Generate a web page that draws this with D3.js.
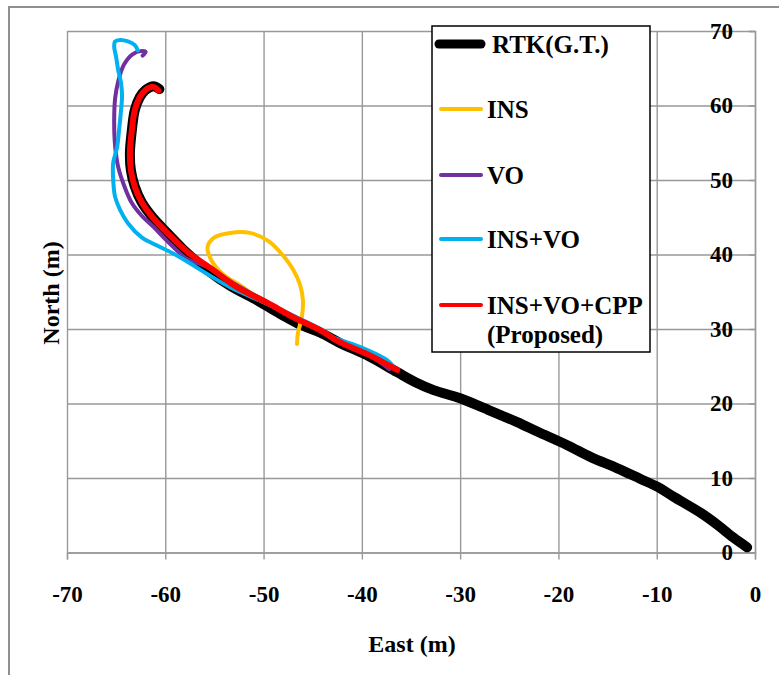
<!DOCTYPE html>
<html>
<head>
<meta charset="utf-8">
<script src="https://cdn.jsdelivr.net/npm/d3@7"></script>
<style>
  body { margin: 0; background: #fff; }
  text { font-family: "Liberation Serif", "Times New Roman", serif; font-weight: bold; fill: #000; }
</style>
</head>
<body>
<svg width="779" height="675"></svg>
<script>
// tick values
const eastTicks = [-70, -60, -50, -40, -30, -20, -10, 0];
const northTicks = [0, 10, 20, 30, 40, 50, 60, 70];

// tracks, [east, north] in metres
const rtkTrack = [[-0.8,0.7],[-2.2,2.0],[-3.8,3.7],[-5.5,5.3],[-8.3,7.5],[-9.9,8.8],[-11.7,9.9],[-14.0,11.3],
  [-16.7,12.8],[-19.1,14.4],[-22.1,16.2],[-24.2,17.5],[-27.6,19.4],[-30.0,20.7],[-32.7,21.8],[-34.6,22.9],
  [-36.4,24.2],[-39.5,26.5],[-42.2,28.1],[-44.2,29.5],[-46.3,30.6],[-48.0,31.8],[-50.6,33.8],[-53.4,35.8],
  [-55.7,37.9],[-57.8,40.2],[-59.8,42.9],[-61.3,45.0],[-62.4,47.0],[-63.1,49.1],[-63.5,51.3],[-63.6,53.6],
  [-63.4,56.7],[-63.1,59.4],[-62.6,61.1],[-62.0,62.1],[-61.2,62.6],[-60.6,62.2]];
const insTrack = [[-46.6,28.0],[-46.5,29.5],[-46.1,31.6],[-46.0,33.9],[-46.3,36.0],[-47.0,38.0],[-48.1,40.0],
  [-49.5,41.8],[-51.4,42.9],[-53.4,42.9],[-55.0,42.3],[-55.7,41.0],[-55.3,39.2],[-54.0,37.2],[-52.3,35.8],[-50.6,34.2]];
const voTrack = [[-37.2,24.6],[-39.5,26.7],[-42.2,28.3],[-44.2,29.7],[-47.0,31.7],[-49.6,33.6],[-52.5,35.7],
  [-54.2,37.1],[-55.5,38.2],[-56.6,38.8],[-57.8,39.4],[-59.8,41.8],[-61.2,43.7],[-62.4,45.2],[-63.4,46.9],
  [-64.2,49.3],[-64.8,51.8],[-65.1,54.5],[-65.2,58.0],[-65.1,61.0],[-64.8,63.2],[-64.2,65.5],[-63.3,66.9],
  [-62.5,67.3],[-62.0,67.2],[-62.3,66.7]];
const insVoTrack = [[-36.8,25.0],[-37.4,25.8],[-40.2,27.6],[-42.9,28.9],[-44.2,30.0],[-47.0,31.8],[-50.0,33.6],
  [-53.4,35.6],[-56.0,37.6],[-57.7,39.0],[-59.3,40.2],[-61.0,41.3],[-62.4,42.3],[-63.8,44.2],[-64.6,46.0],
  [-65.1,47.7],[-65.3,50.0],[-65.3,52.3],[-64.9,54.4],[-64.7,56.7],[-64.5,59.4],[-64.4,61.2],[-64.5,63.0],
  [-64.8,64.8],[-65.0,66.5],[-65.2,67.9],[-65.1,68.6],[-64.6,68.8],[-63.8,68.6],[-63.1,68.1],[-62.8,67.4]];
const cppTrack = [[-36.4,24.5],[-39.4,26.6],[-42.2,28.2],[-44.2,29.8],[-47.0,31.6],[-49.6,33.5],[-52.7,35.6],
  [-55.1,37.9],[-57.8,40.4],[-59.8,42.9],[-61.3,45.0],[-62.4,47.0],[-63.1,49.1],[-63.5,51.3],[-63.6,53.6],
  [-63.4,56.7],[-63.1,59.4],[-62.6,61.1],[-62.0,62.1],[-61.2,62.5],[-60.7,62.0]];

const seriesNames = ["RTK(G.T.)", "INS", "VO", "INS+VO", "INS+VO+CPP"];
const seriesColors = ["#000000", "#FFC000", "#7030A0", "#00B0F0", "#FF0000"];
const seriesWidths = [10, 4, 4, 4, 6];
const tracks = [rtkTrack, insTrack, voTrack, insVoTrack, cppTrack];

const svg = d3.select("svg");

// chart frame
svg.append("rect").attr("x", 9).attr("y", 7).attr("width", 800).attr("height", 700)
  .attr("fill", "none").attr("stroke", "#8f8f8f").attr("stroke-width", 2);

const x = d3.scaleLinear().domain([-70, 0]).range([67, 755]);
const y = d3.scaleLinear().domain([0, 70]).range([552.5, 31]);

// grid
svg.append("g").attr("transform", `translate(0,${y(0)})`)
  .call(d3.axisBottom(x).tickValues(eastTicks).tickSize(-(y(0) - y(70))).tickFormat(""))
  .call(g => g.select(".domain").remove())
  .selectAll("line").attr("stroke", "#999").attr("stroke-width", 1.4);
svg.append("g").attr("transform", `translate(${x(0)},0)`)
  .call(d3.axisLeft(y).tickValues(northTicks).tickSize(x(0) - x(-70)).tickFormat(""))
  .call(g => g.select(".domain").remove())
  .selectAll("line").attr("stroke", "#999").attr("stroke-width", 1.4);

// axes crossing at zero
const xAxis = svg.append("g").attr("transform", `translate(0,${y(0)})`)
  .call(d3.axisBottom(x).tickValues(eastTicks).tickSize(7).tickPadding(26).tickFormat(d => String(d)));
xAxis.selectAll("text").attr("font-size", 23).attr("dy", "0.71em");
const yAxis = svg.append("g").attr("transform", `translate(${x(0)},0)`)
  .call(d3.axisLeft(y).tickValues(northTicks).tickSize(6).tickPadding(16).tickFormat(d => String(d)));
yAxis.selectAll("text").attr("font-size", 23);
svg.selectAll(".domain, .tick line").attr("stroke", "#999").attr("stroke-width", 1.4);
svg.selectAll(".tick text").attr("font-family", "Liberation Serif").attr("font-weight", "bold").attr("fill", "#000");

// tracks
const line = d3.line().x(d => x(d[0])).y(d => y(d[1])).curve(d3.curveCatmullRom.alpha(0.5));
svg.append("g").selectAll("path").data(tracks).join("path")
  .attr("d", line)
  .attr("fill", "none")
  .attr("stroke", (d, i) => seriesColors[i])
  .attr("stroke-width", (d, i) => seriesWidths[i])
  .attr("stroke-linecap", "round")
  .attr("stroke-linejoin", "round");

// axis titles
svg.append("text").attr("x", 412).attr("y", 652).attr("text-anchor", "middle")
  .attr("font-size", 24).text("East (m)");
svg.append("text").attr("transform", "translate(59,293) rotate(-90)").attr("text-anchor", "middle")
  .attr("font-size", 24).text("North (m)");

// legend
const legend = svg.append("g");
legend.append("rect").attr("x", 432).attr("y", 26).attr("width", 218).attr("height", 326)
  .attr("fill", "#fff").attr("stroke", "#000").attr("stroke-width", 1.5);
const rowY = [44, 109, 175, 239, 305];
seriesNames.forEach((name, i) => {
  legend.append("line").attr("x1", i === 0 ? 439 : 441).attr("x2", 481)
    .attr("y1", rowY[i]).attr("y2", rowY[i])
    .attr("stroke", seriesColors[i]).attr("stroke-width", i === 0 ? 9 : 4).attr("stroke-linecap", "round");
  legend.append("text").attr("x", i === 0 ? 492 : 487).attr("y", rowY[i] + 9)
    .attr("font-size", 25).text(name);
});
legend.append("text").attr("x", 487).attr("y", 343).attr("font-size", 25).text("(Proposed)");
</script>
</body>
</html>
